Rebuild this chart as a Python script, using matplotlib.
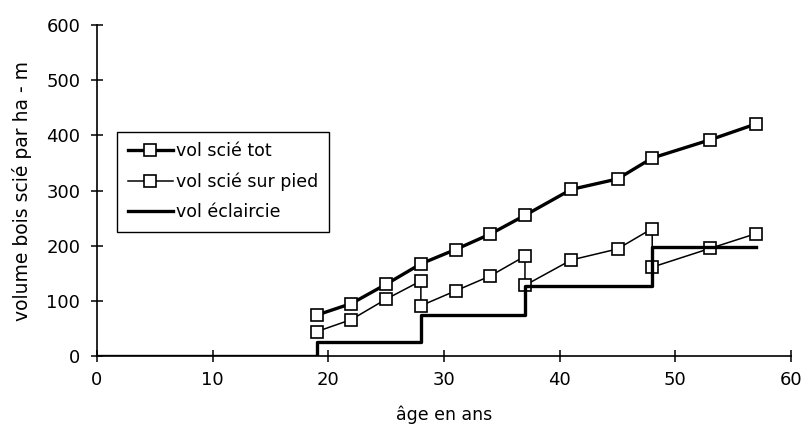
import matplotlib
matplotlib.use("Agg")
import matplotlib.pyplot as plt

# âge (ans) et volumes (m3/ha)
age_tot = [19, 22, 25, 28, 31, 34, 37, 41, 45, 48, 53, 57]
vol_tot = [74, 95, 130, 167, 193, 221, 255, 302, 321, 359, 392, 421]

age_pied = [19, 22, 25, 28, 28, 31, 34, 37, 37, 41, 45, 48, 48, 53, 57]
vol_pied = [44, 66, 103, 136, 91, 118, 145, 181, 128, 174, 194, 231, 161, 195, 222]

age_ecl = [0, 19, 28, 37, 48, 57]
vol_ecl = [0, 26, 74, 127, 198, 198]

plt.rcParams['font.family'] = ['DejaVu Sans']

fig = plt.figure(figsize=(8.08, 4.34), dpi=100)
ax = fig.add_axes([0.120, 0.180, 0.859, 0.762])

mk = dict(marker='s', markersize=8, markerfacecolor='white',
          markeredgecolor='black', markeredgewidth=1.2)

ax.plot(age_tot, vol_tot, color='black', lw=2.4, label='vol scié tot', **mk)
ax.plot(age_pied, vol_pied, color='black', lw=1.1, label='vol scié sur pied', **mk)
ax.plot(age_ecl, vol_ecl, color='black', lw=2.4, drawstyle='steps-post',
        label='vol éclaircie')

ax.set_xlim(0, 60)
ax.set_ylim(0, 600)
ax.set_xticks(range(0, 61, 10))
ax.set_yticks(range(0, 601, 100))
ax.spines['top'].set_visible(False)
ax.spines['right'].set_visible(False)
ax.spines['left'].set_linewidth(1.2)
ax.spines['bottom'].set_linewidth(1.2)
ax.tick_params(direction='inout', length=8, width=1.1, labelsize=13)
ax.tick_params(axis='y', pad=8)
ax.tick_params(axis='x', pad=7)

ax.set_xlabel('âge en ans', fontsize=12.5, labelpad=12)
ax.set_ylabel('volume bois scié par ha - m', fontsize=13.5, labelpad=10)

leg = ax.legend(loc='upper left', bbox_to_anchor=(0.029, 0.677), fontsize=12.5,
                frameon=True, fancybox=False, edgecolor='black', framealpha=1,
                handlelength=2.6, borderpad=0.6, labelspacing=0.7,
                handletextpad=0.2, borderaxespad=0)
leg.get_frame().set_linewidth(1.0)

fig.savefig('out.png', dpi=100)
